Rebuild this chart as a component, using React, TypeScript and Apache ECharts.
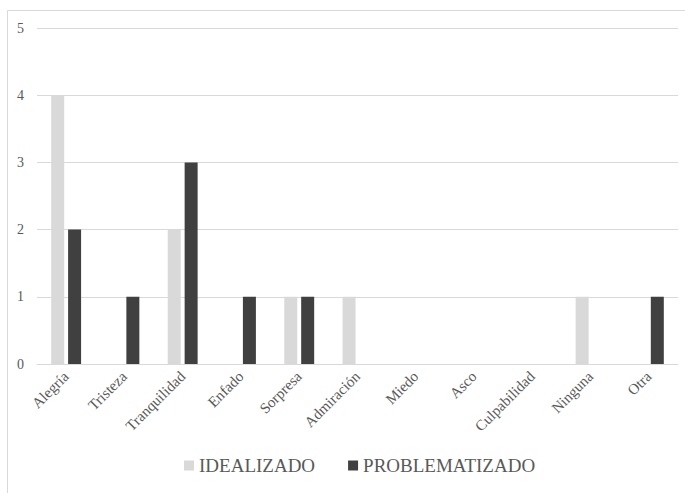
import React, { useEffect, useRef } from "react";
import * as echarts from "echarts";

const categories = ["Alegría", "Tristeza", "Tranquilidad", "Enfado", "Sorpresa", "Admiración", "Miedo", "Asco", "Culpabilidad", "Ninguna", "Otra"];
const idealizado = [4, 0, 2, 0, 1, 1, 0, 0, 0, 1, 0];
const problematizado = [2, 1, 3, 1, 1, 0, 0, 0, 0, 0, 1];
const seriesNames = ["IDEALIZADO", "PROBLEMATIZADO"];

export default function App() {
  const ref = useRef<HTMLDivElement>(null);
  useEffect(() => {
    const chart = echarts.init(ref.current!, null, { renderer: "svg" });
    const font = "'Liberation Serif', 'Times New Roman', serif";
    chart.setOption({
      animation: false,
      backgroundColor: "#ffffff",
      graphic: [
        {
          type: "rect",
          shape: { x: 7.5, y: 10.5, width: 700, height: 500 },
          style: { fill: "none", stroke: "#d9d9d9", lineWidth: 1 },
          silent: true,
          z: -1,
        },
      ],
      grid: { left: 37, right: 7, top: 28, bottom: 129, containLabel: false },
      legend: {
        bottom: 13,
        left: 179,
        itemWidth: 10,
        itemHeight: 10,
        itemGap: 33,
        icon: "rect",
        textStyle: { fontFamily: font, fontSize: 19, color: "#595959" },
        data: seriesNames,
      },
      xAxis: {
        type: "category",
        data: categories,
        axisLine: { lineStyle: { color: "#d9d9d9" } },
        axisTick: { show: false },
        axisLabel: { rotate: 45, fontFamily: font, fontSize: 15, color: "#595959", margin: 10, interval: 0 },
      },
      yAxis: {
        type: "value",
        min: 0,
        max: 5,
        interval: 1,
        axisLine: { show: false },
        axisTick: { show: false },
        splitLine: { lineStyle: { color: "#d9d9d9" } },
        axisLabel: { fontFamily: font, fontSize: 14, color: "#595959", margin: 13 },
      },
      series: [
        { name: seriesNames[0], type: "bar", data: idealizado, barWidth: 13, barGap: "30%", itemStyle: { color: "#d9d9d9" } },
        { name: seriesNames[1], type: "bar", data: problematizado, barWidth: 13, barGap: "30%", itemStyle: { color: "#404040" } },
      ],
    });
    return () => chart.dispose();
  }, []);
  return <div ref={ref} style={{ position: "fixed", left: 0, top: 0, width: 685, height: 493 }} />;
}
